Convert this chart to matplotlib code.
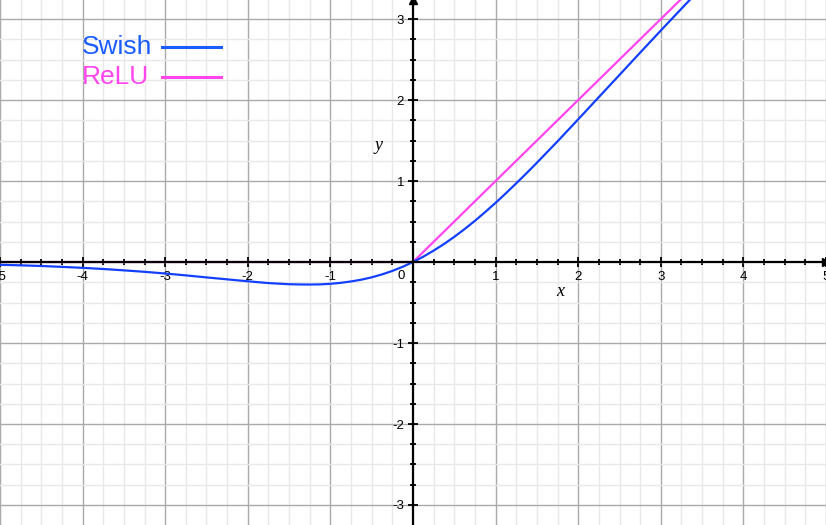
import numpy as np
import matplotlib
matplotlib.use('Agg')
import matplotlib.pyplot as plt
from matplotlib.ticker import MultipleLocator

# swish (denser around the dip)
swish_x = [-5, -4.75, -4.5, -4.25, -4, -3.75, -3.5, -3.25, -3, -2.75, -2.5,
           -2.25, -2, -1.875, -1.75, -1.625, -1.5, -1.375, -1.25, -1.125, -1,
           -0.875, -0.75, -0.625, -0.5, -0.375, -0.25, -0.125, 0, 0.125, 0.25,
           0.375, 0.5, 0.625, 0.75, 0.875, 1, 1.125, 1.25, 1.375, 1.5, 1.75,
           2, 2.25, 2.5, 2.75, 3, 3.25, 3.5]
swish_y = [-0.034, -0.041, -0.049, -0.060, -0.072, -0.086, -0.103, -0.121,
           -0.142, -0.165, -0.190, -0.214, -0.238, -0.249, -0.260, -0.267,
           -0.274, -0.277, -0.278, -0.276, -0.269, -0.257, -0.240, -0.218,
           -0.189, -0.153, -0.110, -0.059, 0.0, 0.066, 0.141, 0.222, 0.311,
           0.407, 0.509, 0.618, 0.731, 0.849, 0.972, 1.097, 1.226, 1.490,
           1.762, 2.036, 2.310, 2.585, 2.858, 3.128, 3.396]

relu_x = [-5, 0, 3.5]
relu_y = [0, 0, 3.5]

x_ticks = [-5, -4, -3, -2, -1, 1, 2, 3, 4, 5]
y_ticks = [-3, -2, -1, 1, 2, 3]

swish_color = '#1340ff'
relu_color = '#ff45ee'

fig = plt.figure(figsize=(8.26, 5.25), dpi=100)
ax = fig.add_axes([0, 0, 1, 1])
ax.set_xlim(-5.0, 5.0)
ax.set_ylim(-3.247, 3.235)

ax.xaxis.set_major_locator(MultipleLocator(1))
ax.xaxis.set_minor_locator(MultipleLocator(0.25))
ax.yaxis.set_major_locator(MultipleLocator(1))
ax.yaxis.set_minor_locator(MultipleLocator(0.25))
ax.grid(which='minor', color='#e8e8e8', lw=1.0)
ax.grid(which='major', color='#a9a9a9', lw=1.0)
ax.set_axisbelow(True)

for side in ['top', 'right']:
    ax.spines[side].set_visible(False)
ax.spines['left'].set_position(('data', 0))
ax.spines['bottom'].set_position(('data', 0))
ax.spines['left'].set_linewidth(1.6)
ax.spines['bottom'].set_linewidth(1.6)
ax.spines['left'].set_zorder(5)
ax.spines['bottom'].set_zorder(5)

ax.tick_params(which='major', direction='inout', length=7, width=1.3, labelsize=9.5, pad=3)
ax.tick_params(which='minor', direction='inout', length=5, width=1.3)
ax.tick_params(axis='y', pad=3)
ax.set_xticks(x_ticks)
ax.set_xticklabels([str(v) for v in x_ticks], family='Liberation Sans')
ax.set_yticks(y_ticks)
ax.set_yticklabels([str(v) for v in y_ticks], family='Liberation Sans')
ax.text(-0.1, -0.1, '0', ha='right', va='top', fontsize=9.5, family='Liberation Sans')

# arrow heads
ax.plot(1, 0, '>k', ms=6, transform=ax.get_yaxis_transform(), clip_on=False, zorder=6)
ax.plot(0, 1, '^k', ms=6, transform=ax.get_xaxis_transform(), clip_on=False, zorder=6)

ax.plot(relu_x, relu_y, color=relu_color, lw=1.6, zorder=3)
ax.plot(swish_x, swish_y, color=swish_color, lw=1.6, zorder=4)

ax.text(1.78, -0.37, 'x', fontsize=13, style='italic', family='Liberation Serif', ha='center', va='center')
ax.text(-0.42, 1.44, 'y', fontsize=13, style='italic', family='Liberation Serif', ha='center', va='center')

# legend drawn by hand like the original
ax.text(82 / 826, 1 - 47 / 525, 'Swish', transform=ax.transAxes, fontsize=19,
        family='Liberation Sans', color='#1a5cff', va='center')
ax.plot([162 / 826, 221 / 826], [1 - 47 / 525] * 2, transform=ax.transAxes,
        color='#1a5cff', lw=2.2)
ax.text(82 / 826, 1 - 77 / 525, 'ReLU', transform=ax.transAxes, fontsize=19,
        family='Liberation Sans', color=relu_color, va='center')
ax.plot([162 / 826, 221 / 826], [1 - 77 / 525] * 2, transform=ax.transAxes,
        color=relu_color, lw=2.2)

fig.savefig('out.png', dpi=100)
